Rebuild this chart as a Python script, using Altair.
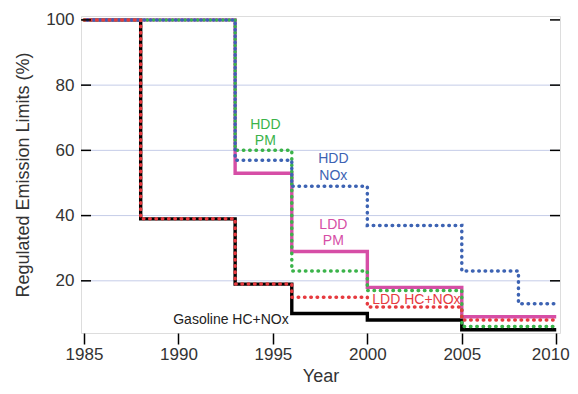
import altair as alt
import pandas as pd

# ---- data ----
gas_years = [1985, 1988, 1993, 1996, 2000, 2005, 2010]
gas_vals = [100, 39, 19, 10, 8, 5, 5]

ldd_hc_years = [1985, 1988, 1993, 1996, 2000, 2005, 2010]
ldd_hc_vals = [100, 39, 19, 15, 12, 8, 8]

ldd_pm_years = [1985, 1993, 1996, 2000, 2005, 2010]
ldd_pm_vals = [100, 53, 29, 18, 9, 9]

hdd_pm_years = [1985, 1993, 1996, 2000, 2005, 2010]
hdd_pm_vals = [100, 60, 23, 17, 6, 6]

hdd_nox_years = [1985, 1993, 1996, 2000, 2005, 2008, 2010]
hdd_nox_vals = [100, 57, 49, 37, 23, 13, 13]

label_text = ["HDD", "PM", "HDD", "NOx", "LDD", "PM", "LDD HC+NOx", "Gasoline HC+NOx"]
label_x = [1994.6, 1994.6, 1998.2, 1998.2, 1998.2, 1998.2, 2002.6, 1992.78]
label_y = [67.8, 62.9, 57.3, 52.1, 37.1, 32.2, 14.1, 8.0]
label_col = ["#3bb34a", "#3bb34a", "#3d63b3", "#3d63b3", "#d64ea6", "#d64ea6", "#e63a3f", "#222222"]

tick_vals = [20, 40, 60, 80, 100]
x_ticks = [1985, 1990, 1995, 2000, 2005, 2010]

BLACK = "#000000"
PINK = "#d64ea6"
GREEN = "#3bb34a"
BLUE = "#3d63b3"
RED = "#e63a3f"

W, H = 479, 317
xscale = alt.Scale(domain=[1984.84, 2010.2], nice=False, zero=False)
yscale = alt.Scale(domain=[4, 101.2], nice=False, zero=False)

xaxis = alt.Axis(values=x_ticks, format="d", title="Year", grid=False, domain=False,
                 tickSize=11, tickWidth=1.5, tickColor="black",
                 labelFontSize=17, labelColor="#333", labelPadding=2,
                 labelOffset={"expr": "datum.value == 2010 ? -6 : 0"},
                 titleFontSize=18, titleFontWeight="normal", titleColor="#333", titlePadding=5,
                 labelFont="Liberation Sans", titleFont="Liberation Sans")
yaxis = alt.Axis(values=tick_vals, title="Regulated Emission Limits (%)", grid=False, domain=False,
                 ticks=False, labelFontSize=17, labelColor="#333", labelPadding=7,
                 titleFontSize=18, titleFontWeight="normal", titleColor="#333", titlePadding=13,
                 labelFont="Liberation Sans", titleFont="Liberation Sans")


def X(field):
    return alt.X(field, type="quantitative", scale=xscale, axis=xaxis)


def Y(field):
    return alt.Y(field, type="quantitative", scale=yscale, axis=yaxis)


def series(years, vals, color, dash=None, offset=0, width=3.2):
    df = pd.DataFrame({"year": years, "val": vals})
    kw = dict(interpolate="step-after", color=color, strokeWidth=width, clip=True)
    if dash is not None:
        kw.update(strokeDash=dash, strokeCap="round", strokeDashOffset=offset)
    return alt.Chart(df).mark_line(**kw).encode(x=X("year"), y=Y("val"))


# grid lines
grid_df = pd.DataFrame({"v": [20, 40, 60, 80]})
grid = alt.Chart(grid_df).mark_rule(color="#c5cde8", strokeWidth=1).encode(
    y=Y("v"), x=alt.value(0), x2=alt.value(W),
)

tick_df = pd.DataFrame({"v": tick_vals})
left_ticks = alt.Chart(tick_df).mark_rule(color="black", strokeWidth=1.5).encode(
    y=Y("v"), x=alt.value(0), x2=alt.value(10))
right_ticks = alt.Chart(tick_df).mark_rule(color="black", strokeWidth=1.5).encode(
    y=Y("v"), x=alt.value(W - 10), x2=alt.value(W))

lab_df = pd.DataFrame({"t": label_text, "x": label_x, "y": label_y, "c": label_col})
labels = alt.Chart(lab_df).mark_text(fontSize=14, font="Liberation Sans").encode(
    x=X("x"), y=Y("y"),
    text="t:N",
    color=alt.Color("c:N", scale=None),
)

dash = [0.5, 5.8]
chart = alt.layer(
    grid,
    series(gas_years, gas_vals, BLACK, width=3.4),
    series(ldd_pm_years, ldd_pm_vals, PINK, width=3.4),
    series(hdd_pm_years, hdd_pm_vals, GREEN, dash, 0, width=3.5),
    series(hdd_nox_years, hdd_nox_vals, BLUE, dash, 3, width=3.5),
    series(ldd_hc_years, ldd_hc_vals, RED, dash, 0, width=3.5),
    left_ticks,
    right_ticks,
    labels,
).properties(
    width=W, height=H,
    autosize=alt.AutoSizeParams(type="none"),
    padding={"left": 73, "top": 8, "right": 10, "bottom": 53},
).configure_view(stroke="black", strokeWidth=2).configure(background="white")

chart.save("out.html", embed_options={"renderer": "svg", "actions": False})
